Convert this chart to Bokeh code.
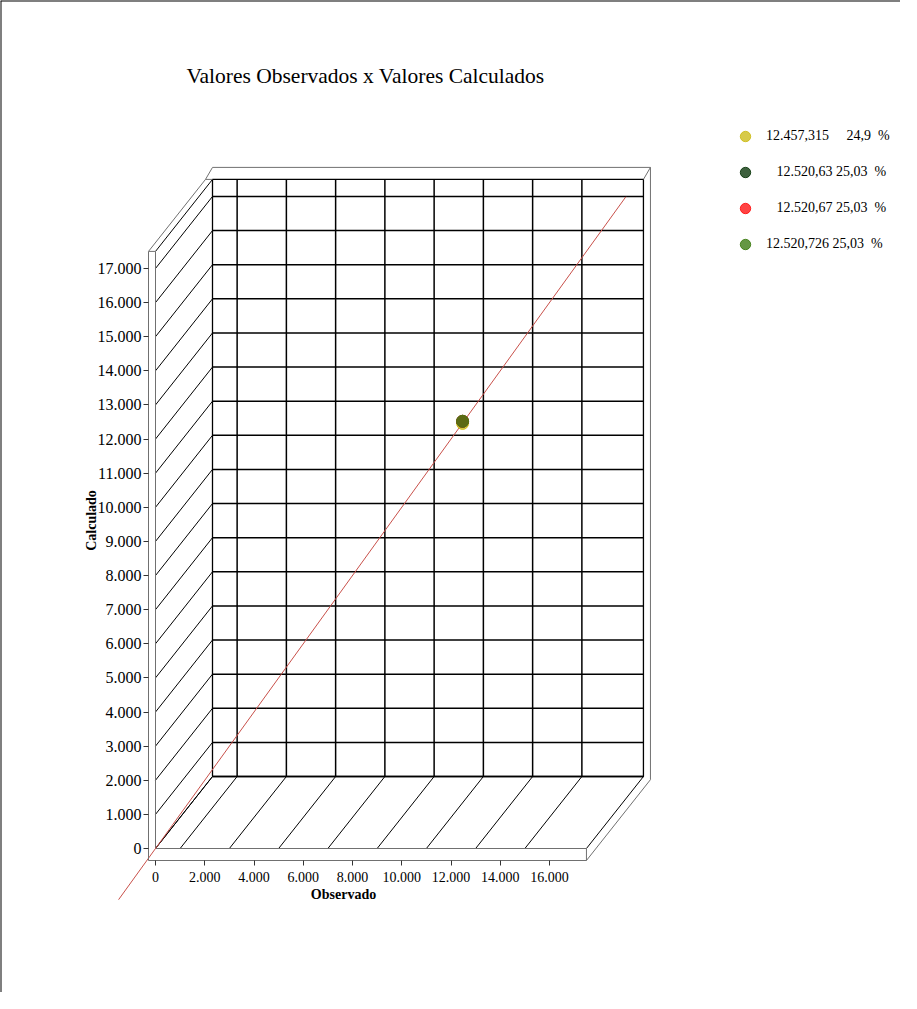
from bokeh.plotting import figure
from bokeh.models import (Range1d, FixedTicker, Label, Legend, LegendItem, Span, LinearAxis)
from bokeh.embed import file_html
from bokeh.resources import INLINE

# ---------------- data ----------------
title_text = "Valores Observados x Valores Calculados"
x_label = "Observado"
y_label = "Calculado"
series_values = ["12.457,315", "12.520,63", "12.520,67", "12.520,726"]
series_pct = ["24,9 %", "25,03 %", "25,03 %", "25,03 %"]
observed = [12470, 12470, 12470, 12470]
calculated = [12457.315, 12520.63, 12520.67, 12520.726]
series_colors = ["#cdbd1c", "#0e3a0e", "#ff1414", "#3f7d14"]
x_ticks = [0, 2000, 4000, 6000, 8000, 10000, 12000, 14000, 16000]
x_tick_labels = ["0", "2.000", "4.000", "6.000", "8.000", "10.000", "12.000", "14.000", "16.000"]
y_ticks = [0, 1000, 2000, 3000, 4000, 5000, 6000, 7000, 8000, 9000, 10000,
           11000, 12000, 13000, 14000, 15000, 16000, 17000]
y_tick_labels = ["0", "1.000", "2.000", "3.000", "4.000", "5.000", "6.000", "7.000", "8.000",
                 "9.000", "10.000", "11.000", "12.000", "13.000", "14.000", "15.000",
                 "16.000", "17.000"]
x_grid = [1000, 3000, 5000, 7000, 9000, 11000, 13000, 15000]
y_grid = y_ticks
x_max = 17500
y_max = 17500
ref_line = [-1500, 19100]   # identity line y = x

# ---------------- layout ----------------
W, H = 900, 992
X0, Y0 = 155, 848          # pixel of the origin (front plane)
SX, SY = 24.625, 34.12     # pixels per 1000 units

def dx(px):
    return px / SX * 1000.0

def dy(px):
    return px / SY * 1000.0

x_range = Range1d(-dx(X0), dx(W - X0))
y_range = Range1d(-dy(H - Y0), dy(Y0))

DXd, DYd = dx(57), dy(72)   # depth offset of the back wall
TX, TY = dx(7), dy(12)      # wall thickness

p = figure(width=W, height=H, x_range=x_range, y_range=y_range,
           output_backend="svg", toolbar_location=None, min_border=0,
           x_axis_type=None, y_axis_type=None)
p.xgrid.visible = False
p.ygrid.visible = False
p.outline_line_color = None
p.background_fill_color = "white"
p.border_fill_color = "white"

SERIF = "Liberation Serif"

# ---- walls (3D frame) ----
grey = "#707070"
bx0, bx1 = DXd, x_max + DXd
by0, by1 = DYd, y_max + DYd
p.segment([bx0] * len(y_grid), [g + DYd for g in y_grid], [bx1] * len(y_grid),
          [g + DYd for g in y_grid], line_color="black", line_width=1.5)
p.segment([g + DXd for g in x_grid], [by0] * len(x_grid), [g + DXd for g in x_grid],
          [by1] * len(x_grid), line_color="black", line_width=1.5)
p.multi_line([[bx0, bx0, bx1, bx1, bx0]], [[by0, by1, by1, by0, by0]],
             line_color="black", line_width=1.3)
ly = y_grid + [y_max]
p.segment([0] * len(ly), ly, [DXd] * len(ly), [v + DYd for v in ly],
          line_color="black", line_width=1)
fx = [0] + x_grid + [x_max]
p.segment(fx, [0] * len(fx), [v + DXd for v in fx], [DYd] * len(fx),
          line_color="black", line_width=1)
p.multi_line([[0, 0], [0, x_max], [-TX, 0], [x_max, x_max]],
             [[0, y_max], [0, 0], [y_max, y_max], [-TY, 0]],
             line_color=grey, line_width=1)
k = (DXd + TX) / DXd
p.multi_line(
    [[-TX, DXd - TX, DXd],
     [DXd - TX, bx0],
     [DXd, bx1 + TX, bx1 + TX],
     [bx1, bx1 + TX],
     [x_max, x_max + k * DXd]],
    [[y_max, by1, by1 + TY],
     [by1, by1],
     [by1 + TY, by1 + TY, -TY + k * DYd],
     [by1, by1 + TY],
     [-TY, -TY + k * DYd]],
    line_color=grey, line_width=1)

# ---- identity line ----
p.line(ref_line, ref_line, line_color="#c8504a", line_width=1)

# ---- points ----
renderers = []
for i in range(len(series_values)):
    r = p.scatter([observed[i]], [calculated[i]], size=12, marker="circle",
                  fill_color=series_colors[i], line_color=series_colors[i],
                  fill_alpha=0.8, line_alpha=0.9)
    renderers.append(r)

# ---- axes ----
yax = LinearAxis(ticker=FixedTicker(ticks=y_ticks),
                 major_label_overrides={t: l for t, l in zip(y_ticks, y_tick_labels)},
                 fixed_location=-TX, bounds=(-TY, y_max),
                 axis_line_color=grey, major_tick_line_color="#333333",
                 major_tick_out=5, major_tick_in=0, minor_tick_line_color=None,
                 major_label_text_font=SERIF, major_label_text_font_size="16px",
                 major_label_text_color="black", major_label_standoff=2)
p.add_layout(yax, "left")
xax = LinearAxis(ticker=FixedTicker(ticks=x_ticks),
                 major_label_overrides={t: l for t, l in zip(x_ticks, x_tick_labels)},
                 fixed_location=-TY, bounds=(-TX, x_max),
                 axis_line_color=grey, major_tick_line_color="#333333",
                 major_tick_out=5, major_tick_in=0, minor_tick_line_color=None,
                 major_label_text_font=SERIF, major_label_text_font_size="14px",
                 major_label_text_color="black", major_label_standoff=6)
p.add_layout(xax, "below")

# ---- texts ----
p.add_layout(Label(x=dx(365 - X0), y=dy(Y0 - 75), text=title_text,
                   text_font=SERIF, text_font_size="21.5px", text_align="center",
                   text_baseline="middle", text_color="black"))
p.add_layout(Label(x=dx(343 - X0), y=dy(Y0 - 894), text=x_label,
                   text_font=SERIF, text_font_size="14px", text_font_style="bold",
                   text_align="center", text_baseline="middle", text_color="black"))
p.add_layout(Label(x=dx(91 - X0), y=dy(Y0 - 520), text=y_label, angle=1.5708,
                   text_font=SERIF, text_font_size="14px", text_font_style="bold",
                   text_align="center", text_baseline="middle", text_color="black"))

# ---- legend ----
NB = "\u00a0"
lead = [0, 3, 3, 0]
gap = [5, 1, 1, 1]
items = []
for i in range(len(series_values)):
    num, pct = series_pct[i].split(" ")
    lab = NB * lead[i] + series_values[i] + NB * gap[i] + num + NB * 2 + pct
    items.append(LegendItem(label=lab, renderers=[renderers[i]]))
legend = Legend(items=items, location=(732, 735), padding=0, margin=0,
                glyph_width=26, glyph_height=26, spacing=10, label_standoff=8,
                label_text_font=SERIF, label_text_font_size="14px",
                label_text_color="black", border_line_color=None,
                background_fill_alpha=0)
p.add_layout(legend)

# ---- page border (top and left) ----
p.add_layout(Span(location=y_range.end, dimension="width", line_color="black", line_width=2))
p.add_layout(Span(location=x_range.start, dimension="height", line_color="black", line_width=2))

open("out.html", "w").write(file_html(p, INLINE))
